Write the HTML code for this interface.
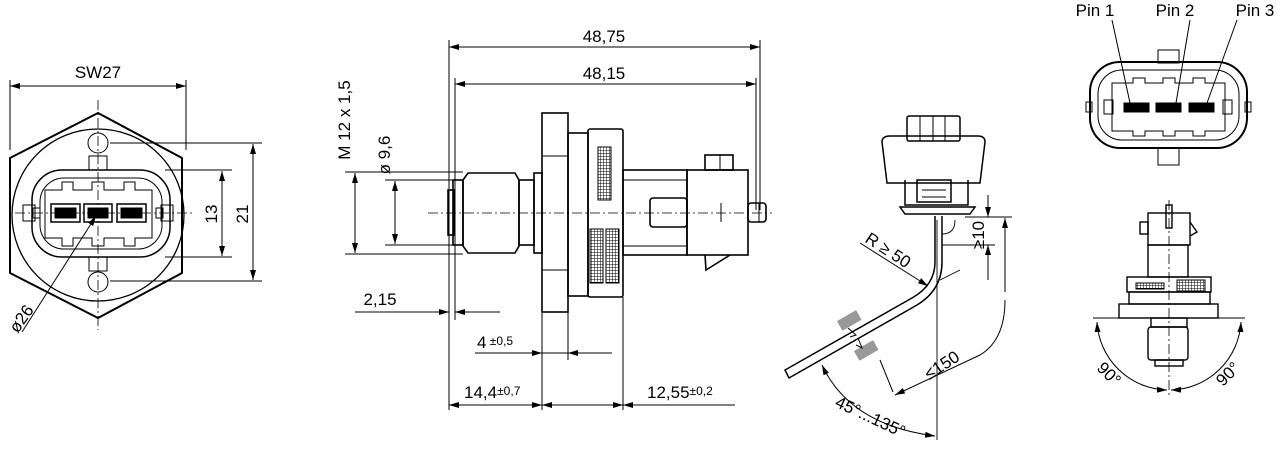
<!DOCTYPE html>
<html><head><meta charset="utf-8"><style>
html,body{margin:0;padding:0;background:#fff}
svg{display:block}
text{font-family:"Liberation Sans",sans-serif;fill:#000}
</style></head><body>
<svg width="1280" height="455" viewBox="0 0 1280 455" xmlns="http://www.w3.org/2000/svg">
<defs>
<marker id="a" viewBox="0 0 10 6" refX="10" refY="3" markerWidth="10" markerHeight="6" orient="auto-start-reverse" markerUnits="userSpaceOnUse"><path d="M0,0 L10,3 L0,6z" fill="#000"/></marker>
<pattern id="g" width="3" height="3" patternUnits="userSpaceOnUse"><rect width="3" height="3" fill="#fff"/><path d="M0,0H3M0,0V3" stroke="#000" stroke-width="1"/></pattern>
</defs>
<g fill="none" stroke="#000" stroke-width="1">
<!-- LEFT VIEW -->
<path d="M98,113 L182,158 L182,273 L98,318 L10,273 L10,158 Z" stroke-width="2" stroke-linejoin="round"/>
<circle cx="98" cy="215" r="86" stroke-width="1.3"/>
<rect x="32" y="170" width="138" height="87" rx="30" stroke-width="1.5"/>
<rect x="40" y="178" width="122" height="71" rx="24"/>
<path d="M45,190 H62 V182 H73 V190 H92 V182 H104 V190 H124 V182 H135 V190 H152 V238 H135 V246 H124 V238 H104 V246 H92 V238 H73 V246 H62 V238 H45 Z"/>
<rect x="51" y="204" width="29" height="18" stroke-width="1.5"/><rect x="55" y="208" width="21" height="10" fill="#000"/>
<rect x="84" y="204" width="28" height="18" stroke-width="1.5"/><rect x="88" y="208" width="20" height="10" fill="#000"/>
<rect x="117" y="204" width="29" height="18" stroke-width="1.5"/><rect x="121" y="208" width="21" height="10" fill="#000"/>
<rect x="23" y="205" width="12" height="16"/><rect x="33" y="208" width="7" height="10"/>
<rect x="161" y="205" width="12" height="16"/><rect x="156" y="208" width="7" height="10"/>
<circle cx="98" cy="143" r="10"/><circle cx="98" cy="282" r="10"/>
<rect x="89" y="156" width="18" height="14"/><rect x="89" y="257" width="18" height="14"/>
<path d="M98,100 V330 M15,213 H195" stroke-dasharray="10,3,2,3" stroke-width="0.8"/>
<path d="M10,150 V80 M186,150 V80"/>
<path d="M10,86 H186" marker-start="url(#a)" marker-end="url(#a)"/>
<path d="M165,170 H232 M165,257 H232 M110,143 H262 M110,281 H262"/>
<path d="M222,171 V256" marker-start="url(#a)" marker-end="url(#a)"/>
<path d="M253,144 V280" marker-start="url(#a)" marker-end="url(#a)"/>
<path d="M96,216 L22,332" marker-start="url(#a)"/>
<!-- MIDDLE VIEW -->
<path d="M449,40 V410 M455,78 V320 M760,40 V210 M756,78 V210 M542,313 V410 M623,297 V410 M568,312 V360"/>
<path d="M449,47 H760" marker-start="url(#a)" marker-end="url(#a)"/>
<path d="M455,84 H756" marker-start="url(#a)" marker-end="url(#a)"/>
<path d="M345,172 H463 M345,254 H463 M385,180 H455 M385,245 H455"/>
<path d="M355,173 V253" marker-start="url(#a)" marker-end="url(#a)"/>
<path d="M395,181 V244" marker-start="url(#a)" marker-end="url(#a)"/>
<path d="M355,312 H449 M455,312 H500"/>
<path d="M430,312 H449" marker-end="url(#a)"/><path d="M475,312 H455" marker-end="url(#a)"/>
<path d="M475,353 H612"/><path d="M520,353 H542" marker-end="url(#a)"/><path d="M590,353 H568" marker-end="url(#a)"/>
<path d="M449,405 H542" marker-start="url(#a)" marker-end="url(#a)"/>
<path d="M542,405 H623" marker-start="url(#a)" marker-end="url(#a)"/>
<path d="M623,405 H735" marker-start="url(#a)"/>
<g stroke-width="1.6">
<rect x="448" y="190" width="6" height="45"/>
<rect x="453" y="180" width="10" height="65"/>
<path d="M463,180 L468,173 H515 L519,180 V246 L515,253 H468 L463,246 Z"/>
<rect x="519" y="180" width="15" height="65"/>
<rect x="534" y="173" width="8" height="80"/>
<rect x="542" y="113" width="26" height="199"/>
<rect x="568" y="133" width="20" height="163"/>
<rect x="588" y="129" width="35" height="168" rx="2"/>
<rect x="623" y="170" width="64" height="85"/>
<rect x="650" y="198" width="37" height="29" rx="3"/>
<rect x="687" y="170" width="61" height="85"/>
<rect x="748" y="203" width="18" height="19" rx="3"/>
<rect x="705" y="155" width="28" height="15"/>
<path d="M705,255 L706,270 L730,255"/>
</g>
<path d="M542,156 H568 M542,270 H568 M623,180 H687 M623,246 H687 M721,203 V222 M759,203 V222 M720,155 V170"/>
<rect x="598" y="147" width="13" height="53" fill="url(#g)"/>
<rect x="590" y="229" width="13" height="54" fill="url(#g)"/>
<rect x="606" y="229" width="13" height="54" fill="url(#g)"/>
<path d="M428,213 H772" stroke-dasharray="10,3,2,3" stroke-width="0.8"/>
<!-- CONNECTOR WITH CABLE -->
<g stroke-width="1.5">
<rect x="907" y="116" width="53" height="25" rx="2"/>
<path d="M882,142 Q882,136 890,136 H978 Q985,136 985,142 L980,183 H887 Z"/>
<path d="M905,180 V205 H968 V180"/>
<path d="M900,207 H975 L970,214 H905 Z"/>
<rect x="917" y="180" width="34" height="22"/>
<path d="M935,216 V262 Q935,285 912,298 L785,370 L789,378 L917,305 Q942,290 942,262 V216"/>
</g>
<path d="M920,116 V141 M933,116 V141 M945,116 V141 M922,190 H946 M922,197 H946"/>
<path d="M937,220 V440 M942,234 Q955,234 955,220 M942,245 H995 M940,280 L960,270" stroke-width="0.9"/>
<path d="M965,217 H1012" />
<path d="M988,195 V217" marker-end="url(#a)"/>
<path d="M988,280 V245" marker-end="url(#a)"/>
<path d="M1005,292 V218" marker-end="url(#a)"/>
<path d="M1005,300 Q1005,340 980,355 L895,395" marker-end="url(#a)"/>
<path d="M880,360 L893,392"/>
<path d="M860,243 L928,286" marker-end="url(#a)"/>
<path d="M822,365 Q850,425 935,436" marker-start="url(#a)" marker-end="url(#a)"/>
<rect x="838" y="315" width="22" height="11" fill="#999" stroke="none" transform="rotate(-30 849 320)"/>
<rect x="855" y="345" width="22" height="11" fill="#999" stroke="none" transform="rotate(-30 866 350)"/>
<path d="M848,328 L856,335 L850,337 M858,338 L862,348 L856,345"/>
<!-- PIN VIEW -->
<rect x="1090" y="62" width="157" height="86" rx="30" stroke-width="2"/>
<rect x="1098" y="70" width="141" height="70" rx="24"/>
<path d="M1112,83 H1133 V78 H1145 V83 H1163 V78 H1175 V83 H1193 V78 H1205 V83 H1225 V131 H1205 V136 H1193 V131 H1175 V136 H1163 V131 H1145 V136 H1133 V131 H1112 Z"/>
<rect x="1124" y="103" width="25" height="9" fill="#000"/>
<rect x="1156" y="103" width="25" height="9" fill="#000"/>
<rect x="1189" y="103" width="25" height="9" fill="#000"/>
<rect x="1158" y="50" width="21" height="13"/><rect x="1158" y="148" width="21" height="17"/>
<rect x="1086" y="102" width="6" height="10"/><rect x="1245" y="102" width="6" height="10"/>
<rect x="1104" y="100" width="9" height="14"/><rect x="1223" y="100" width="9" height="14"/>
<path d="M1112,20 L1130,103 M1190,20 L1176,103 M1237,20 L1207,103"/>
<!-- BOTTOM RIGHT -->
<g stroke-width="1.4">
<rect x="1148" y="213" width="42" height="32"/>
<rect x="1148" y="245" width="40" height="32"/>
<rect x="1127" y="277" width="84" height="15"/>
<rect x="1129" y="292" width="81" height="12"/>
<rect x="1119" y="304" width="99" height="14"/>
<rect x="1151" y="318" width="36" height="9"/>
<rect x="1148" y="327" width="40" height="33" rx="3"/>
<rect x="1155" y="360" width="28" height="6"/>
<rect x="1166" y="205" width="6" height="23"/>
<rect x="1140" y="222" width="8" height="12"/>
<path d="M1190,222 L1197,232 L1190,236"/>
</g>
<rect x="1136" y="283" width="28" height="6" fill="url(#g)"/>
<rect x="1177" y="280" width="28" height="11" fill="url(#g)"/>
<path d="M1169,200 V395" stroke-dasharray="10,3,2,3" stroke-width="0.8"/>
<path d="M1093,318 H1245"/>
<path d="M1097,322 A72,72 0 0 0 1167,390" marker-start="url(#a)" marker-end="url(#a)"/>
<path d="M1241,322 A72,72 0 0 1 1171,390" marker-start="url(#a)" marker-end="url(#a)"/>
</g>
<g font-size="17">
<text x="98" y="78" text-anchor="middle">SW27</text>
<text transform="translate(217,214) rotate(-90)" text-anchor="middle">13</text>
<text transform="translate(248,214) rotate(-90)" text-anchor="middle">21</text>
<text transform="translate(26,322) rotate(-55)" text-anchor="middle">ø26</text>
<text x="604" y="42" text-anchor="middle">48,75</text>
<text x="604" y="79" text-anchor="middle">48,15</text>
<text transform="translate(350,120) rotate(-90)" text-anchor="middle">M 12 x 1,5</text>
<text transform="translate(390,155) rotate(-90)" text-anchor="middle">ø 9,6</text>
<text x="380" y="305" text-anchor="middle">2,15</text>
<text x="477" y="348">4<tspan font-size="12" dy="-3"> ±0,5</tspan></text>
<text x="464" y="398">14,4<tspan font-size="12" dy="-3">±0,7</tspan></text>
<text x="647" y="398">12,55<tspan font-size="12" dy="-3">±0,2</tspan></text>
<text transform="translate(885,255) rotate(33)" text-anchor="middle">R ≥ 50</text>
<text transform="translate(984,235) rotate(-90)" text-anchor="middle">≥10</text>
<text transform="translate(945,370) rotate(-33)" text-anchor="middle">≤150</text>
<text transform="translate(868,422) rotate(25)" text-anchor="middle">45°...135°</text>
<text x="1095" y="16" text-anchor="middle">Pin 1</text>
<text x="1175" y="16" text-anchor="middle">Pin 2</text>
<text x="1255" y="16" text-anchor="middle">Pin 3</text>
<text transform="translate(1105,378) rotate(45)" text-anchor="middle">90°</text>
<text transform="translate(1232,378) rotate(-45)" text-anchor="middle">90°</text>
</g>
</svg>
</body></html>
